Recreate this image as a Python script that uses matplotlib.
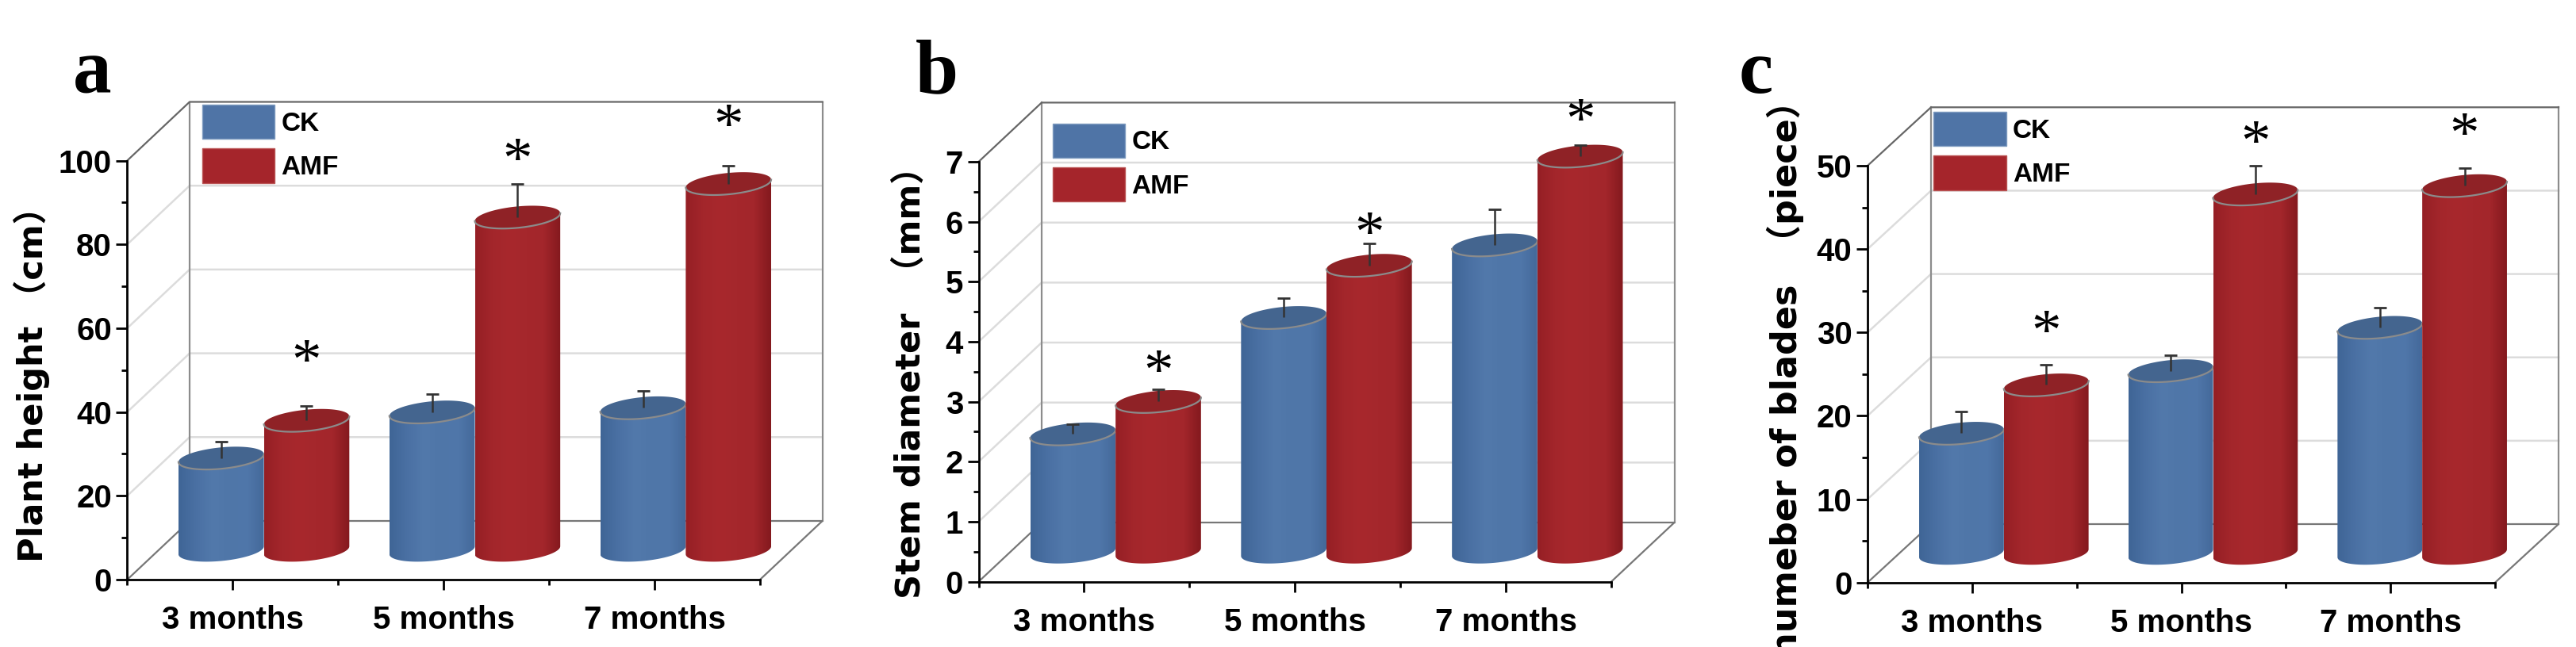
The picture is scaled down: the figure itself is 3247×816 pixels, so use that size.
import numpy as np
import matplotlib
matplotlib.use('Agg')
import matplotlib.pyplot as plt
from matplotlib.colors import LinearSegmentedColormap
from matplotlib.patches import PathPatch, Patch
from matplotlib.path import Path

W, H = 3247, 816

months = ['3 months', '5 months', '7 months']

# values
ck_a = [22, 33, 34]
amf_a = [31, 79.5, 87.5]
ck_a_err = [4, 4.2, 4.1]
amf_a_err = [3.4, 7.9, 4.3]
star_a = [53.8, 101.8, 110]

ck_b = [1.97, 3.91, 5.12]
amf_b = [2.51, 4.78, 6.6]
ck_b_err = [0.16, 0.32, 0.6]
amf_b_err = [0.2, 0.36, 0.18]
star_b = [3.62, 5.91, 7.81]

ck_c = [14.4, 21.9, 27.1]
amf_c = [20.2, 43.1, 44.1]
ck_c_err = [2.6, 1.9, 2.4]
amf_c_err = [2.4, 3.4, 2.1]
star_c = [30.9, 53.6, 54.6]

NARROW = ['Liberation Sans Narrow', 'Liberation Sans']
LABEL = ['DejaVu Sans', 'Noto Sans CJK SC']

blue_map = LinearSegmentedColormap.from_list('b', ['#3f6596', '#4a70a3', '#5279ab', '#4f76a8', '#5077aa', '#44699a'])
red_map = LinearSegmentedColormap.from_list('r', ['#951f25', '#a3262b', '#a8282d', '#a5272c', '#a3262b', '#84191e'])


def cylinder(ax, xc, width, base, top, cmap, lid, bw, tilt):
    t = np.linspace(0, np.pi, 60)
    a = width / 2
    # front half of the lid, left to right, and the same for the foot
    fx = xc - a * np.cos(t)
    lo = -bw * np.sin(t) - tilt * np.cos(t)
    body = np.concatenate([np.c_[fx, base + lo], np.c_[fx[::-1], top + lo[::-1]]])
    patch = PathPatch(Path(np.r_[body, body[:1]], closed=True), fc='none', ec='none', transform=ax.transData)
    ax.add_patch(patch)
    grad = np.linspace(0, 1, 128).reshape(1, -1)
    im = ax.imshow(grad, cmap=cmap, extent=(xc - a, xc + a, base - bw * 1.5, top + bw * 1.5),
                   aspect='auto', zorder=3, interpolation='bilinear')
    # the bars lean out of the front plane, so no clipping to the axes box
    im.set_clip_box(fig.bbox)
    im.set_clip_path(patch)
    tt = np.linspace(0, 2 * np.pi, 120)
    ax.fill(xc + a * np.cos(tt), top + bw * np.sin(tt) + tilt * np.cos(tt), color=lid, lw=0, zorder=3, clip_on=False)
    ax.plot(fx, top + lo, color='#8b8b8b', lw=1.6, zorder=3, clip_on=False)


def err_up(ax, x, y, e):
    ax.errorbar(x, y, yerr=[[0], [e]], color='#333333', elinewidth=1.8, capsize=0, zorder=4, clip_on=False)
    ax.plot([x], [y + e], marker='_', ms=12, mew=2, color='#333333', zorder=4, clip_on=False)


def panel(rect, back, ymax, ymajor, ck, amf, ck_err, amf_err, stars, letter, letter_xy, ylabel, ylabel_x, ylabel_y, ylabel_va, ylabel_size, legend_xy):
    left, right, y0, ytop = rect
    ax = fig.add_axes([left / W, 1 - y0 / H, (right - left) / W, (y0 - ytop) / H])
    ax.patch.set_alpha(0)
    ax.set_xlim(0, 3)
    ax.set_ylim(0, ymax)

    # depth of the fake 3D box, in data units
    dx = back[0] / (right - left) * 3
    dy = back[1] / (y0 - ytop) * ymax

    # walls and grid
    for v in np.arange(ymajor, ymax, ymajor):
        ax.plot([0, dx, 3 + dx], [v, v + dy, v + dy], color='#dcdcdc', lw=1.8, zorder=1, clip_on=False)
    ax.plot([dx, dx], [dy, ymax + dy], color='#8c8c8c', lw=1.6, zorder=1, clip_on=False)
    ax.plot([3 + dx, 3 + dx], [dy, ymax + dy], color='#8c8c8c', lw=1.6, zorder=1, clip_on=False)
    ax.plot([0, dx, 3 + dx], [ymax, ymax + dy, ymax + dy], color='#666666', lw=1.6, zorder=1, clip_on=False)
    ax.plot([0, dx, 3 + dx, 3], [0, dy, dy, 0], color='#777777', lw=1.6, zorder=1, clip_on=False)

    bar_w = 0.405
    base = dy / 2
    bw = ymax * 13.5 / (y0 - ytop)
    tilt = ymax * 5 / (y0 - ytop)
    for i in range(3):
        x_ck = i + 0.5 + dx / 2 - bar_w / 2
        x_amf = i + 0.5 + dx / 2 + bar_w / 2
        cylinder(ax, x_ck, bar_w, base, ck[i] + base, blue_map, '#44658f', bw, tilt)
        err_up(ax, x_ck, ck[i] + base, ck_err[i])
        cylinder(ax, x_amf, bar_w, base, amf[i] + base, red_map, '#8f2226', bw, tilt)
        err_up(ax, x_amf, amf[i] + base, amf_err[i])
        ax.annotate('*', (x_amf, stars[i]), xytext=(0, -9.5), textcoords='offset points',
                    family='Liberation Serif', fontsize=54, ha='center', va='center',
                    zorder=5, annotation_clip=False)

    ax.set_xlim(0, 3)
    ax.set_ylim(0, ymax)

    ax.spines['top'].set_visible(False)
    ax.spines['right'].set_visible(False)
    ax.spines['left'].set_linewidth(2)
    ax.spines['bottom'].set_linewidth(2)
    ax.spines['left'].set_zorder(6)
    ax.spines['bottom'].set_zorder(6)

    ax.set_xticks([0.5, 1.5, 2.5])
    ax.set_xticklabels(months, family=NARROW, fontweight='bold', fontsize=29)
    ax.set_xticks([0, 1, 2, 3], minor=True)
    ax.set_yticks(np.arange(0, ymax + ymajor / 2, ymajor))
    ax.set_yticks(np.arange(0, ymax + ymajor / 4, ymajor / 2), minor=True)
    for lab in ax.get_yticklabels():
        lab.set_family(NARROW)
        lab.set_fontweight('bold')
        lab.set_fontsize(29)
    ax.tick_params(axis='x', which='major', length=9, width=2, pad=14)
    ax.tick_params(axis='x', which='minor', length=5, width=2)
    ax.tick_params(axis='y', which='major', length=10, width=2, pad=4)
    ax.tick_params(axis='y', which='minor', length=5, width=2)

    handles = [Patch(fc='#4f74a6', ec='#7f9cc0', lw=1, label='CK'), Patch(fc='#a5252b', ec='#bb5555', lw=1, label='AMF')]
    ax.legend(handles=handles, loc='upper left', bbox_to_anchor=(legend_xy[0] / W, 1 - legend_xy[1] / H),
              bbox_transform=fig.transFigure, frameon=False, borderpad=0, borderaxespad=0,
              handlelength=2.75, handleheight=1.63, labelspacing=0.35, handletextpad=0.25,
              prop={'family': NARROW, 'weight': 'bold', 'size': 24})

    fig.text(letter_xy[0] / W, 1 - letter_xy[1] / H, letter, family='Liberation Serif', fontweight='bold',
             fontsize=70, ha='left', va='baseline')
    fig.text(ylabel_x / W, 1 - ylabel_y / H, ylabel, family=LABEL, fontweight='bold', fontsize=ylabel_size,
             rotation=90, ha='center', va=ylabel_va)


plt.rcParams['font.family'] = ['Liberation Sans', 'Noto Sans CJK SC']
fig = plt.figure(figsize=(W / 100, H / 100), dpi=100, facecolor='white')

panel((160.4, 958, 731, 202.5), (78.6, 74), 100, 20, ck_a, amf_a, ck_a_err, amf_a_err, star_a,
      'a', (92, 117), 'Plant height \uff08cm\uff09', 40, 474.5, 'center', 31, (254.5, 132))
panel((1233.5, 2031, 733.6, 204), (79.5, 74.6), 7, 1, ck_b, amf_b, ck_b_err, amf_b_err, star_b,
      'b', (1154, 117), 'Stem diameter  \uff08mm\uff09', 1148, 472, 'center', 31, (1326.6, 155.8))
panel((2354, 3145, 734.7, 209), (80, 73.7), 50, 10, ck_c, amf_c, ck_c_err, amf_c_err, star_c,
      'c', (2192, 117), 'numeber of blades  \uff08piece\uff09', 2250, 105, 'top', 32, (2437, 141))

fig.savefig('out.png', dpi=100)
